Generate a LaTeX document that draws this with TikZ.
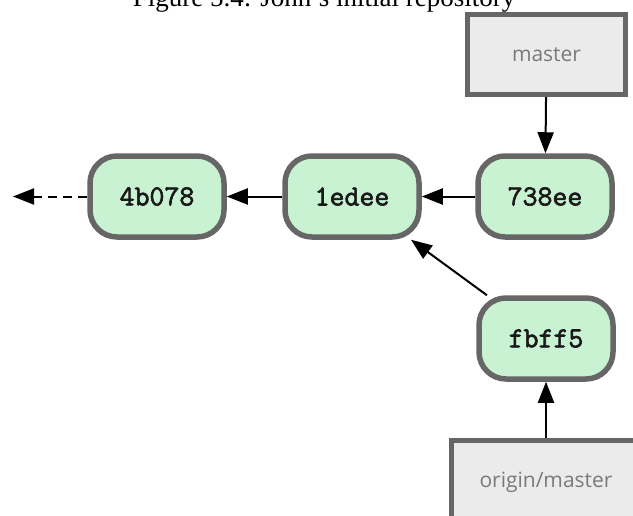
\documentclass[tikz,border=0pt]{standalone}
\usepackage{fontspec}
\setmainfont{Liberation Serif}
\newfontfamily\reff{Open Sans}
\newfontfamily\monof[FakeBold=2.2]{Latin Modern Mono}
\usetikzlibrary{arrows.meta}
\definecolor{commitfill}{HTML}{C9F2D3}
\definecolor{edgegray}{HTML}{666666}
\definecolor{reffill}{HTML}{EBEBEB}
\definecolor{reftext}{HTML}{7A7A7A}
\tikzset{
  commit/.style={draw=edgegray, line width=5.5pt, fill=commitfill, rounded corners=27pt,
    minimum width=134pt, minimum height=81pt, inner sep=0pt,
    font=\monof\fontsize{29}{30}\selectfont, text=black!90},
  refbox/.style={draw=edgegray, line width=5pt, fill=reffill, inner sep=0pt,
    minimum width=158pt, minimum height=80pt, font=\reff\fontsize{21}{24}\selectfont, text=reftext},
  link/.style={line width=2pt, -{Triangle[length=21pt,width=16pt]}},
}
\begin{document}
\begin{tikzpicture}[x=1pt,y=-1pt]
\useasboundingbox (0,0) rectangle (633,515);
\clip (0,0) rectangle (633,515);
\node[anchor=base, font=\fontsize{27}{28}\selectfont] (cap) at (324,6) {Figure 5.4: John's initial repository};
\node[commit] (c4b) at (157,196.5) {4b078};
\node[commit] (c1e) at (352,196.5) {1edee};
\node[commit] (c73) at (545,196.5) {738ee};
\node[commit] (cfb) at (546,338.5) {fbff5};
\node[refbox] (master) at (546.5,54.5) {master};
\node[refbox, minimum width=189pt, minimum height=83pt] (origin) at (546,482) {origin/master};
\coordinate (past) at (13,196.5);
\draw[link, dash pattern=on 9pt off 6pt] (c4b) -- (past);
\draw[link] (c1e) -- (c4b);
\draw[link] (c73) -- (c1e);
\draw[link] (cfb) -- (c1e);
\draw[link] (master) -- (c73);
\draw[link] (origin) -- (cfb);
\end{tikzpicture}
\end{document}
